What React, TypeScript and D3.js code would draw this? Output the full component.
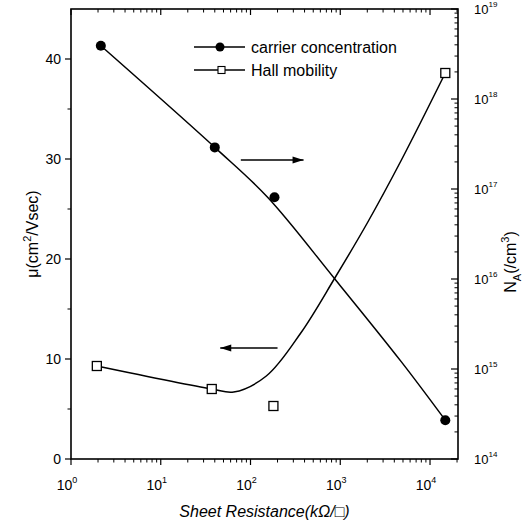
import React, { useEffect, useRef } from "react";
import * as d3 from "d3";

// carrier concentration (filled circles, right axis)
const carrierX = [2.15, 40, 185, 1.48e4];
const carrierY = [3.9e18, 2.9e17, 8.1e16, 2.7e14];
// smooth guide line drawn through the carrier data
const carrierFitX = [2.15, 40, 155, 870, 4800, 1.48e4];
const carrierFitY = [3.9e18, 2.9e17, 8.1e16, 1.0e16, 1.2e15, 2.7e14];

// Hall mobility (open squares, left axis)
const mobilityX = [1.94, 37, 180, 1.48e4];
const mobilityY = [9.3, 7.0, 5.3, 38.6];
const mobilityFitX = [1.94, 37, 65, 150, 363, 870, 2000, 4800, 1.48e4];
const mobilityFitY = [9.3, 7.0, 6.7, 8.3, 12.6, 18.1, 23.6, 29.9, 38.6];

const leftTicks = [0, 10, 20, 30, 40];
const leftMinor = [5, 15, 25, 35];
const xDecades = [0, 1, 2, 3, 4];
const rightDecades = [14, 15, 16, 17, 18, 19];

const legendItems = ["carrier concentration", "Hall mobility"];

const W = 527;
const H = 524;
const font = "'Liberation Sans', Arial, Helvetica, sans-serif";

export default function App() {
  const ref = useRef<SVGSVGElement>(null);

  useEffect(() => {
    const svg = d3.select(ref.current);
    svg.selectAll("*").remove();

    const x = d3.scaleLog().domain([1, 2.05e4]).range([71, 458]);
    const yL = d3.scaleLinear().domain([0, 45]).range([459, 9]);
    const yR = d3.scaleLog().domain([1e14, 1e19]).range([459, 9]);

    const [x0, x1] = x.range();
    const [yb, yt] = yL.range();

    const g = svg.append("g").attr("stroke", "#000").attr("fill", "none");

    // frame
    g.append("rect")
      .attr("x", x0).attr("y", yt)
      .attr("width", x1 - x0).attr("height", yb - yt)
      .attr("stroke-width", 1.6);

    // log x ticks
    const xMinor: number[] = [];
    xDecades.forEach((d) => {
      for (let k = 2; k <= 9; k++) {
        const v = k * Math.pow(10, d);
        if (v < x.domain()[1]) xMinor.push(v);
      }
    });
    xDecades.forEach((d) => {
      const px = x(Math.pow(10, d));
      g.append("line").attr("x1", px).attr("x2", px).attr("y1", yb).attr("y2", yb + 6).attr("stroke-width", 1.2);
      g.append("line").attr("x1", px).attr("x2", px).attr("y1", yt).attr("y2", yt + 6).attr("stroke-width", 1.2);
    });
    xMinor.forEach((v) => {
      const px = x(v);
      g.append("line").attr("x1", px).attr("x2", px).attr("y1", yb).attr("y2", yb + 3.5).attr("stroke-width", 1);
      g.append("line").attr("x1", px).attr("x2", px).attr("y1", yt).attr("y2", yt + 3.5).attr("stroke-width", 1);
    });

    // left linear ticks
    leftTicks.forEach((v) => {
      g.append("line").attr("x1", x0 - 6).attr("x2", x0).attr("y1", yL(v)).attr("y2", yL(v)).attr("stroke-width", 1.2);
    });
    leftMinor.forEach((v) => {
      g.append("line").attr("x1", x0 - 3.5).attr("x2", x0).attr("y1", yL(v)).attr("y2", yL(v)).attr("stroke-width", 1);
    });

    // right log ticks (inward)
    rightDecades.forEach((d) => {
      const py = yR(Math.pow(10, d));
      g.append("line").attr("x1", x1 - 7).attr("x2", x1).attr("y1", py).attr("y2", py).attr("stroke-width", 1.2);
      if (d < 19) {
        for (let k = 2; k <= 9; k++) {
          const pm = yR(k * Math.pow(10, d));
          g.append("line").attr("x1", x1 - 3.5).attr("x2", x1).attr("y1", pm).attr("y2", pm).attr("stroke-width", 1);
        }
      }
    });

    const t = svg.append("g").attr("font-family", font).attr("fill", "#000");

    // left tick labels
    leftTicks.forEach((v) => {
      t.append("text").attr("x", x0 - 10).attr("y", yL(v) + 5)
        .attr("text-anchor", "end").attr("font-size", 14).text(String(v));
    });

    // bottom tick labels 10^n
    xDecades.forEach((d) => {
      const tx = t.append("text").attr("x", x(Math.pow(10, d)) - 4).attr("y", yb + 31)
        .attr("text-anchor", "middle").attr("font-size", 14);
      tx.append("tspan").text("10");
      tx.append("tspan").attr("dy", -7).attr("font-size", 9).text(String(d));
    });

    // right tick labels 10^n
    rightDecades.forEach((d) => {
      const tx = t.append("text").attr("x", x1 + 16).attr("y", yR(Math.pow(10, d)) + 5)
        .attr("font-size", 13);
      tx.append("tspan").text("10");
      tx.append("tspan").attr("dy", -7).attr("font-size", 8).text(String(d));
    });

    // axis titles
    const lt = t.append("text").attr("transform", `translate(38,${(yb + yt) / 2}) rotate(-90)`)
      .attr("text-anchor", "middle").attr("font-size", 16);
    lt.append("tspan").text("\u03bc(cm");
    lt.append("tspan").attr("dy", -7).attr("font-size", 11).text("2");
    lt.append("tspan").attr("dy", 7).text("/Vsec)");

    const rt = t.append("text").attr("transform", `translate(516,262) rotate(-90)`)
      .attr("text-anchor", "middle").attr("font-size", 16);
    rt.append("tspan").text("N");
    rt.append("tspan").attr("dy", 5).attr("font-size", 11).text("A");
    rt.append("tspan").attr("dy", -5).text("(/cm");
    rt.append("tspan").attr("dy", -7).attr("font-size", 11).text("3");
    rt.append("tspan").attr("dy", 7).text(")");

    const bt = t.append("text").attr("x", (x0 + x1) / 2).attr("y", 517)
      .attr("text-anchor", "middle").attr("font-size", 16).attr("font-style", "italic");
    bt.append("tspan").text("Sheet Resistance(k\u03a9/");
    bt.append("tspan").attr("font-style", "normal").text("\u25a1");
    bt.append("tspan").text(")");

    // curves
    const carrierFit = carrierFitX.map((v, i) => [x(v), yR(carrierFitY[i])] as [number, number]);
    const mobilityFit = mobilityFitX.map((v, i) => [x(v), yL(mobilityFitY[i])] as [number, number]);
    const line = d3.line().curve(d3.curveCatmullRom.alpha(0.5));
    g.append("path").attr("d", line(carrierFit)).attr("stroke-width", 1.5);
    g.append("path").attr("d", line(mobilityFit)).attr("stroke-width", 1.5);

    // markers
    carrierX.forEach((v, i) => {
      svg.append("circle").attr("cx", x(v)).attr("cy", yR(carrierY[i])).attr("r", 5).attr("fill", "#000");
    });
    mobilityX.forEach((v, i) => {
      svg.append("rect").attr("x", x(v) - 4.5).attr("y", yL(mobilityY[i]) - 4.5)
        .attr("width", 9).attr("height", 9)
        .attr("fill", "#fff").attr("stroke", "#000").attr("stroke-width", 1.3);
    });

    // direction arrows
    const arrow = (xa: number, xb: number, py: number) => {
      g.append("line").attr("x1", xa).attr("x2", xb).attr("y1", py).attr("y2", py).attr("stroke-width", 1.3);
      const dir = xb > xa ? 1 : -1;
      g.append("path")
        .attr("d", `M${xb},${py} L${xb - dir * 11},${py - 3.5} L${xb - dir * 11},${py + 3.5} Z`)
        .attr("fill", "#000").attr("stroke", "none");
    };
    arrow(x(78), x(390), yR(2.1e17));
    arrow(x(200), x(46), yL(11.1));

    // legend
    const legY = [47, 70];
    legendItems.forEach((name, i) => {
      const ly = legY[i];
      g.append("line").attr("x1", 194).attr("x2", 245).attr("y1", ly).attr("y2", ly).attr("stroke-width", 1.3);
      if (i === 0) {
        svg.append("circle").attr("cx", 220).attr("cy", ly).attr("r", 4.5).attr("fill", "#000");
      } else {
        svg.append("rect").attr("x", 218).attr("y", ly - 3.5).attr("width", 7).attr("height", 7)
          .attr("fill", "#fff").attr("stroke", "#000").attr("stroke-width", 1.1);
      }
      t.append("text").attr("x", 251).attr("y", ly + 5.5).attr("font-size", 16).text(name);
    });
  }, []);

  return (
    <svg ref={ref} width={W} height={H} viewBox={`0 0 ${W} ${H}`}
      style={{ position: "absolute", left: 0, top: 0, background: "#fff" }} />
  );
}
